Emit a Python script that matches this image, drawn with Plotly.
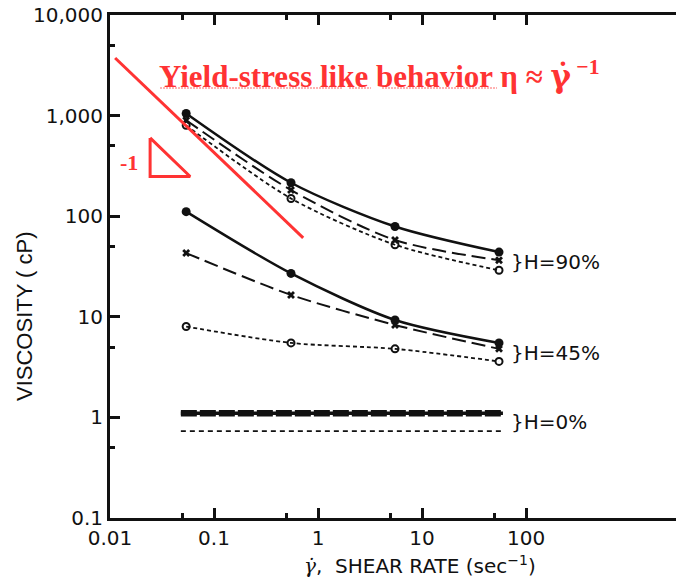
import math
import plotly.graph_objects as go

# Shear rates (1/s) at which viscosity was measured
shear = [0.054, 0.55, 5.5, 55]

# Viscosity (cP) for three humidity levels, three samples each
h90_solid = [1050, 215, 79, 44]
h90_dash = [900, 182, 58, 36.5]
h90_dot = [800, 150, 52, 29]

h45_solid = [111, 27, 9.3, 5.5]
h45_dash = [43, 16.5, 8.3, 4.8]
h45_dot = [8.0, 5.5, 4.8, 3.6]

h0_x = [0.048, 60]
h0_solid = [1.1, 1.1]
h0_dot = [0.73, 0.73]

# Slope -1 guide line and triangle
guide_x = [0.0112, 0.72]
guide_y = [3740, 61]
tri_x = [0.0243, 0.0243, 0.059, 0.0243]
tri_y = [600, 248, 248, 600]

# Axis ticks
x_major = [0.01, 0.1, 1, 10, 100]
x_major_text = ["0.01", "0.1", "1", "10", "100"]
x_minor = [0.05, 0.5, 5, 50]
y_major = [0.1, 1, 10, 100, 1000, 10000]
y_major_text = ["0.1", "1", "10", "100", "1,000", "10,000"]
y_minor = [0.5, 5, 50, 500, 5000]

# Group labels: (text, y position)
group_labels = [("}H=90%", 35), ("}H=45%", 4.37), ("}H=0%", 0.9)]

BLACK = "#111111"
RED = "#FF3333"
SANS = "DejaVu Sans"
SERIF = "Liberation Serif"

W, H = 676, 579
ML, MR, MT, MB = 110, 0, 15, 61
PW, PH = W - ML - MR, H - MT - MB


def px_to_paper(px, py):
    return (px - ML) / PW, (H - MB - py) / PH


fig = go.Figure()


def add_series(y, style, x=shear):
    if style == "solid":
        line = dict(color=BLACK, width=2.5, shape="spline", smoothing=0.8)
        mk = dict(symbol="circle", size=9, color=BLACK)
    elif style == "dash":
        line = dict(color=BLACK, width=2, dash="14px,6px", shape="spline", smoothing=0.8)
        mk = dict(symbol="x", size=7, color=BLACK, line=dict(width=0))
    else:
        line = dict(color=BLACK, width=1.8, dash="4px,3px", shape="spline", smoothing=0.8)
        mk = dict(symbol="circle-open", size=7, color=BLACK, line=dict(width=2))
    fig.add_trace(go.Scatter(
        x=x, y=y, mode="lines+markers",
        line=line, marker=mk, showlegend=False, hoverinfo="skip"))


for ys, st in [(h90_solid, "solid"), (h90_dash, "dash"), (h90_dot, "dot"),
               (h45_solid, "solid"), (h45_dash, "dash"), (h45_dot, "dot")]:
    add_series(ys, st)

# H = 0%: heavy line (solid + dashed overlapping) and a dotted line
fig.add_trace(go.Scatter(x=h0_x, y=h0_solid, mode="lines",
                         line=dict(color=BLACK, width=3.5),
                         showlegend=False, hoverinfo="skip"))
fig.add_trace(go.Scatter(x=h0_x, y=h0_solid, mode="lines",
                         line=dict(color=BLACK, width=6.5, dash="16px,3px"),
                         showlegend=False, hoverinfo="skip"))
fig.add_trace(go.Scatter(x=h0_x, y=h0_dot, mode="lines",
                         line=dict(color=BLACK, width=1.8, dash="5px,4px"),
                         showlegend=False, hoverinfo="skip"))

# Slope guide
fig.add_trace(go.Scatter(x=guide_x, y=guide_y, mode="lines",
                         line=dict(color=RED, width=3),
                         showlegend=False, hoverinfo="skip"))
fig.add_trace(go.Scatter(x=tri_x, y=tri_y, mode="lines",
                         line=dict(color=RED, width=3),
                         showlegend=False, hoverinfo="skip"))

tickfont = dict(family=SANS, size=20, color=BLACK)

fig.update_layout(
    width=W, height=H,
    margin=dict(l=ML, r=MR, t=MT, b=MB),
    paper_bgcolor="white", plot_bgcolor="white",
    xaxis=dict(
        type="log", range=[-2, 3.442],
        showgrid=False, zeroline=False,
        showline=True, linecolor=BLACK, linewidth=3, mirror="ticks",
        ticks="inside", ticklen=10, tickwidth=3, tickcolor=BLACK,
        tickvals=x_major, ticktext=x_major_text, tickfont=tickfont,
        minor=dict(tickvals=x_minor, ticks="inside", ticklen=5,
                   tickwidth=3, tickcolor=BLACK),
    ),
    yaxis=dict(
        type="log", range=[-1, 4],
        showgrid=False, zeroline=False,
        showline=True, linecolor=BLACK, linewidth=3,
        ticks="inside", ticklen=10, tickwidth=3, tickcolor=BLACK,
        tickvals=y_major, ticktext=y_major_text, tickfont=tickfont,
        minor=dict(tickvals=y_minor, ticks="inside", ticklen=5,
                   tickwidth=3, tickcolor=BLACK),
    ),
    yaxis2=dict(
        type="log", range=[-1, 4], overlaying="y", side="right",
        showgrid=False, zeroline=False, showline=False,
        ticks="inside", ticklen=9, tickwidth=3, tickcolor=BLACK,
        tickvals=y_major[1:-1], showticklabels=False,
        minor=dict(tickvals=y_minor, ticks="inside", ticklen=4,
                   tickwidth=3, tickcolor=BLACK),
    ),
)

annotations = []
# Annotations on log axes take log10 coordinates
for text, yv in group_labels:
    annotations.append(dict(
        x=math.log10(shear[-1]), y=math.log10(yv), xref="x", yref="y",
        text=text, showarrow=False, xanchor="left", yanchor="middle",
        xshift=10, font=dict(family=SANS, size=20, color=BLACK)))

GAMMA_DOT = "<span style=\"font-family:DejaVu Serif\">γ̇</span>"

# Red headline and slope label
hx, hy = px_to_paper(157, 75)
annotations.append(dict(
    x=hx, y=hy, xref="paper", yref="paper",
    text="<b>Yield-stress like behavior η ≈ " + GAMMA_DOT + "<sup> −1</sup></b>",
    showarrow=False, xanchor="left", yanchor="middle",
    font=dict(family=SERIF, size=31, color=RED)))
annotations.append(dict(
    x=math.log10(tri_x[0]), y=math.log10(340), xref="x", yref="y",
    text="<b>-1</b>", showarrow=False, xanchor="right", yanchor="middle",
    xshift=-10, font=dict(family=SERIF, size=22, color=RED)))

# Axis titles
tx, ty = px_to_paper(420, 565)
annotations.append(dict(
    x=tx, y=ty, xref="paper", yref="paper",
    text="<i>" + GAMMA_DOT + "</i>,  SHEAR RATE (sec<sup>−1</sup>)",
    showarrow=False, xanchor="center", yanchor="middle",
    font=dict(family=SANS, size=20, color=BLACK)))
vx, vy = px_to_paper(24, 316)
annotations.append(dict(
    x=vx, y=vy, xref="paper", yref="paper",
    text="VISCOSITY ( cP)", textangle=-90,
    showarrow=False, xanchor="center", yanchor="middle",
    font=dict(family="Liberation Sans", size=22, color=BLACK)))

fig.update_layout(annotations=annotations)

# Wavy proofing underline beneath the headline words
shapes = []
for x0, x1 in [(160, 343), (349, 371), (382, 497)]:
    p0 = px_to_paper(x0, 88)
    p1 = px_to_paper(x1, 88)
    shapes.append(dict(type="line", xref="paper", yref="paper",
                       x0=p0[0], y0=p0[1], x1=p1[0], y1=p1[1],
                       line=dict(color="#FF6666", width=1.2, dash="2px,1px")))
fig.update_layout(shapes=shapes)

fig.write_html("out.html")
